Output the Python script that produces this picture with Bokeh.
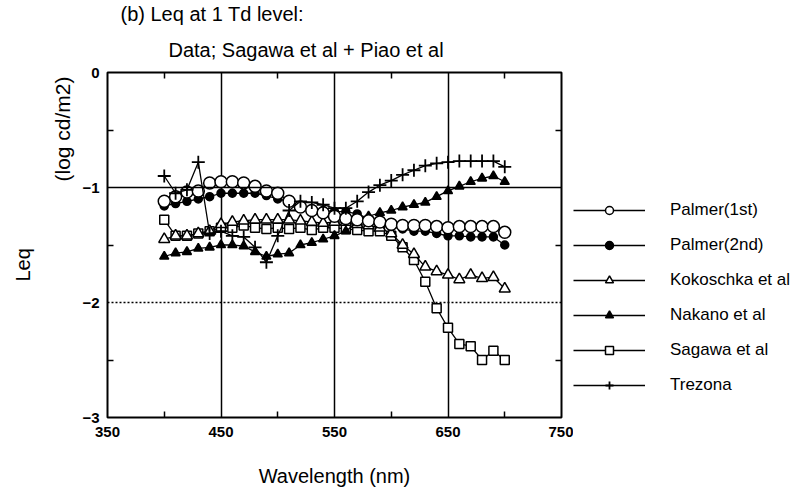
from bokeh.plotting import figure
from bokeh.layouts import row
from bokeh.models import (Range1d, LinearAxis, FixedTicker, Span, Title,
                          Legend, LegendItem)
from bokeh.embed import file_html
from bokeh.resources import INLINE

# ---------------- data ----------------
wavelength = [400, 410, 420, 430, 440, 450, 460, 470, 480, 490, 500,
              510, 520, 530, 540, 550, 560, 570, 580, 590, 600,
              610, 620, 630, 640, 650, 660, 670, 680, 690, 700]

palmer_1st = [-1.12, -1.08, -1.04, -1.03, -0.96, -0.95, -0.95, -0.96, -0.99, -1.03, -1.05,
              -1.12, -1.17, -1.20, -1.22, -1.25, -1.27, -1.28, -1.29, -1.30, -1.32,
              -1.33, -1.33, -1.33, -1.34, -1.35, -1.34, -1.34, -1.34, -1.34, -1.39]

palmer_2nd = [-1.16, -1.14, -1.12, -1.10, -1.08, -1.05, -1.05, -1.05, -1.05, -1.07, -1.10,
              -1.12, -1.17, -1.19, -1.20, -1.21, -1.21, -1.23, -1.27, -1.30, -1.34,
              -1.36, -1.38, -1.38, -1.40, -1.42, -1.42, -1.43, -1.43, -1.43, -1.50]

kokoschka = [-1.45, -1.42, -1.42, -1.40, -1.38, -1.32, -1.30, -1.29, -1.28, -1.28, -1.28,
             -1.28, -1.29, -1.30, -1.31, -1.30, -1.30, -1.32, -1.33, -1.35, -1.40,
             -1.50, -1.58, -1.69, -1.73, -1.76, -1.80, -1.76, -1.79, -1.78, -1.88]

nakano = [-1.60, -1.57, -1.56, -1.53, -1.52, -1.50, -1.50, -1.51, -1.56, -1.60, -1.58,
          -1.57, -1.50, -1.48, -1.45, -1.42, -1.38, -1.30, -1.25, -1.22, -1.20,
          -1.17, -1.15, -1.13, -1.08, -1.03, -0.99, -0.95, -0.92, -0.90, -0.95]

sagawa = [-1.28, -1.42, -1.42, -1.40, -1.38, -1.35, -1.35, -1.33, -1.35, -1.36, -1.35,
          -1.36, -1.35, -1.37, -1.35, -1.35, -1.36, -1.37, -1.38, -1.38, -1.42,
          -1.52, -1.63, -1.82, -2.05, -2.22, -2.36, -2.38, -2.50, -2.42, -2.50]

trezona = [-0.90, -1.05, -1.02, -0.78, -1.40, -1.38, -1.42, -1.43, -1.52, -1.65, -1.42,
           -1.20, -1.12, -1.13, -1.15, -1.18, -1.18, -1.12, -1.04, -0.98, -0.94,
           -0.89, -0.85, -0.81, -0.79, -0.78, -0.77, -0.77, -0.77, -0.77, -0.82]

series_names = ["Palmer(1st)", "Palmer(2nd)", "Kokoschka et al",
                "Nakano et al", "Sagawa et al", "Trezona"]

x_major = [350, 450, 550, 650, 750]
x_minor = [400, 500, 600, 700]
y_major = [-3, -2, -1, 0]
y_minor = [-2.5, -1.5, -0.5]
x_grid = [450, 550, 650]

FONT = "Liberation Sans"
NAN = float("nan")

# marker styles: (marker, size, fill, line width)
styles = {
    "Palmer(1st)": ("circle", 12, "white", 1.5),
    "Palmer(2nd)": ("circle", 8, "black", 1.5),
    "Kokoschka et al": ("triangle", 11, "white", 1.5),
    "Nakano et al": ("triangle", 9, "black", 1.5),
    "Sagawa et al": ("square", 9, "white", 1.5),
    "Trezona": ("cross", 13, None, 1.8),
}

p = figure(width=573, height=489, title=None,
           x_range=Range1d(350, 750), y_range=Range1d(-3, 0),
           output_backend="svg", toolbar_location=None,
           min_border_left=104, min_border_right=12,
           min_border_top=72, min_border_bottom=69)

p.background_fill_color = "white"
p.border_fill_color = "white"
p.outline_line_color = "black"
p.outline_line_width = 2

# grid
p.xgrid.ticker = FixedTicker(ticks=x_grid)
p.xgrid.grid_line_color = "black"
p.xgrid.grid_line_width = 1.5
p.ygrid.visible = False
p.add_layout(Span(location=-1, dimension="width", line_color="black", line_width=1.5))
p.add_layout(Span(location=-2, dimension="width", line_color="black", line_width=1.5,
                  line_dash="2 2"))

# axes
xa = p.xaxis[0]
xa.ticker = FixedTicker(ticks=x_major, minor_ticks=x_minor)
ya = p.yaxis[0]
ya.ticker = FixedTicker(ticks=y_major, minor_ticks=y_minor)
for ax in (xa, ya):
    ax.axis_line_color = None
    ax.major_tick_in = 0
    ax.major_tick_out = 0
    ax.minor_tick_in = 6
    ax.minor_tick_out = 0
    ax.minor_tick_line_color = "black"
    ax.minor_tick_line_width = 1.5
    ax.major_label_text_font = FONT
    ax.major_label_text_font_style = "bold"
    ax.major_label_text_font_size = "15px"
    ax.major_label_text_color = "black"
xa.major_label_standoff = 9
ya.major_label_standoff = 8
xa.axis_label = "Wavelength (nm)"
xa.axis_label_text_font = FONT
xa.axis_label_text_font_style = "normal"
xa.axis_label_text_font_size = "20px"
xa.axis_label_text_color = "black"
xa.axis_label_standoff = 25

top = LinearAxis(ticker=FixedTicker(ticks=[], minor_ticks=x_minor))
right = LinearAxis(ticker=FixedTicker(ticks=[], minor_ticks=y_minor))
for ax in (top, right):
    ax.axis_line_color = None
    ax.major_tick_in = 0
    ax.major_tick_out = 0
    ax.minor_tick_in = 6
    ax.minor_tick_out = 0
    ax.minor_tick_line_color = "black"
    ax.minor_tick_line_width = 1.5
p.add_layout(top, "above")
p.add_layout(right, "right")

# titles (above) and y labels (left)
def ttl(text, size, align, offset, standoff, padding=0):
    return Title(text=text, align=align, offset=offset, standoff=standoff,
                 padding=padding,
                 text_font=FONT, text_font_size=size, text_font_style="normal",
                 text_color="black")

p.add_layout(ttl("Data; Sagawa et al + Piao et al", "20px", "left", 61, 24), "above")
p.add_layout(ttl("(b)  Leq at 1 Td level:", "20px", "left", 13, 0), "above")
p.add_layout(ttl("(log cd/m2)", "21px", "right", 4, 12), "left")
p.add_layout(ttl("Leq", "20px", "left", 128, 2, padding=8), "left")

# series
def series(fig, xs, ys, name):
    marker, size, fill, lw = styles[name]
    rl = fig.line(xs, ys, line_color="black", line_width=1.3)
    rs = fig.scatter(xs, ys, marker=marker, size=size, fill_color=fill,
                     line_color="black", line_width=lw)
    return [rl, rs]

data = {
    "Palmer(1st)": palmer_1st, "Palmer(2nd)": palmer_2nd,
    "Kokoschka et al": kokoschka, "Nakano et al": nakano,
    "Sagawa et al": sagawa, "Trezona": trezona,
}
draw_order = ["Sagawa et al", "Kokoschka et al", "Nakano et al",
              "Palmer(2nd)", "Palmer(1st)", "Trezona"]
for name in draw_order:
    series(p, wavelength, data[name], name)

# legend panel (separate figure to the right; same styles, legend samples only)
q = figure(width=228, height=489, x_range=Range1d(0, 1), y_range=Range1d(0, 1),
           output_backend="svg", toolbar_location=None, title=None,
           x_axis_location=None, y_axis_location=None,
           min_border_left=0, min_border_right=0, min_border_top=0, min_border_bottom=0)
q.outline_line_color = None
q.xgrid.visible = False
q.ygrid.visible = False
q.background_fill_color = "white"
q.border_fill_color = "white"

items = []
for name in series_names:
    rs = series(q, [NAN], [NAN], name)
    items.append(LegendItem(label=name, renderers=rs))

legend = Legend(items=items, location=(0, 22))
legend.glyph_width = 72
legend.glyph_height = 20
legend.label_height = 20
legend.spacing = 15
legend.padding = 0
legend.margin = 0
legend.label_standoff = 25
legend.border_line_color = None
legend.background_fill_alpha = 0
legend.label_text_font = FONT
legend.label_text_font_size = "17px"
legend.label_text_color = "black"
q.add_layout(legend)

layout = row(p, q)
open("out.html", "w").write(file_html(layout, INLINE))
